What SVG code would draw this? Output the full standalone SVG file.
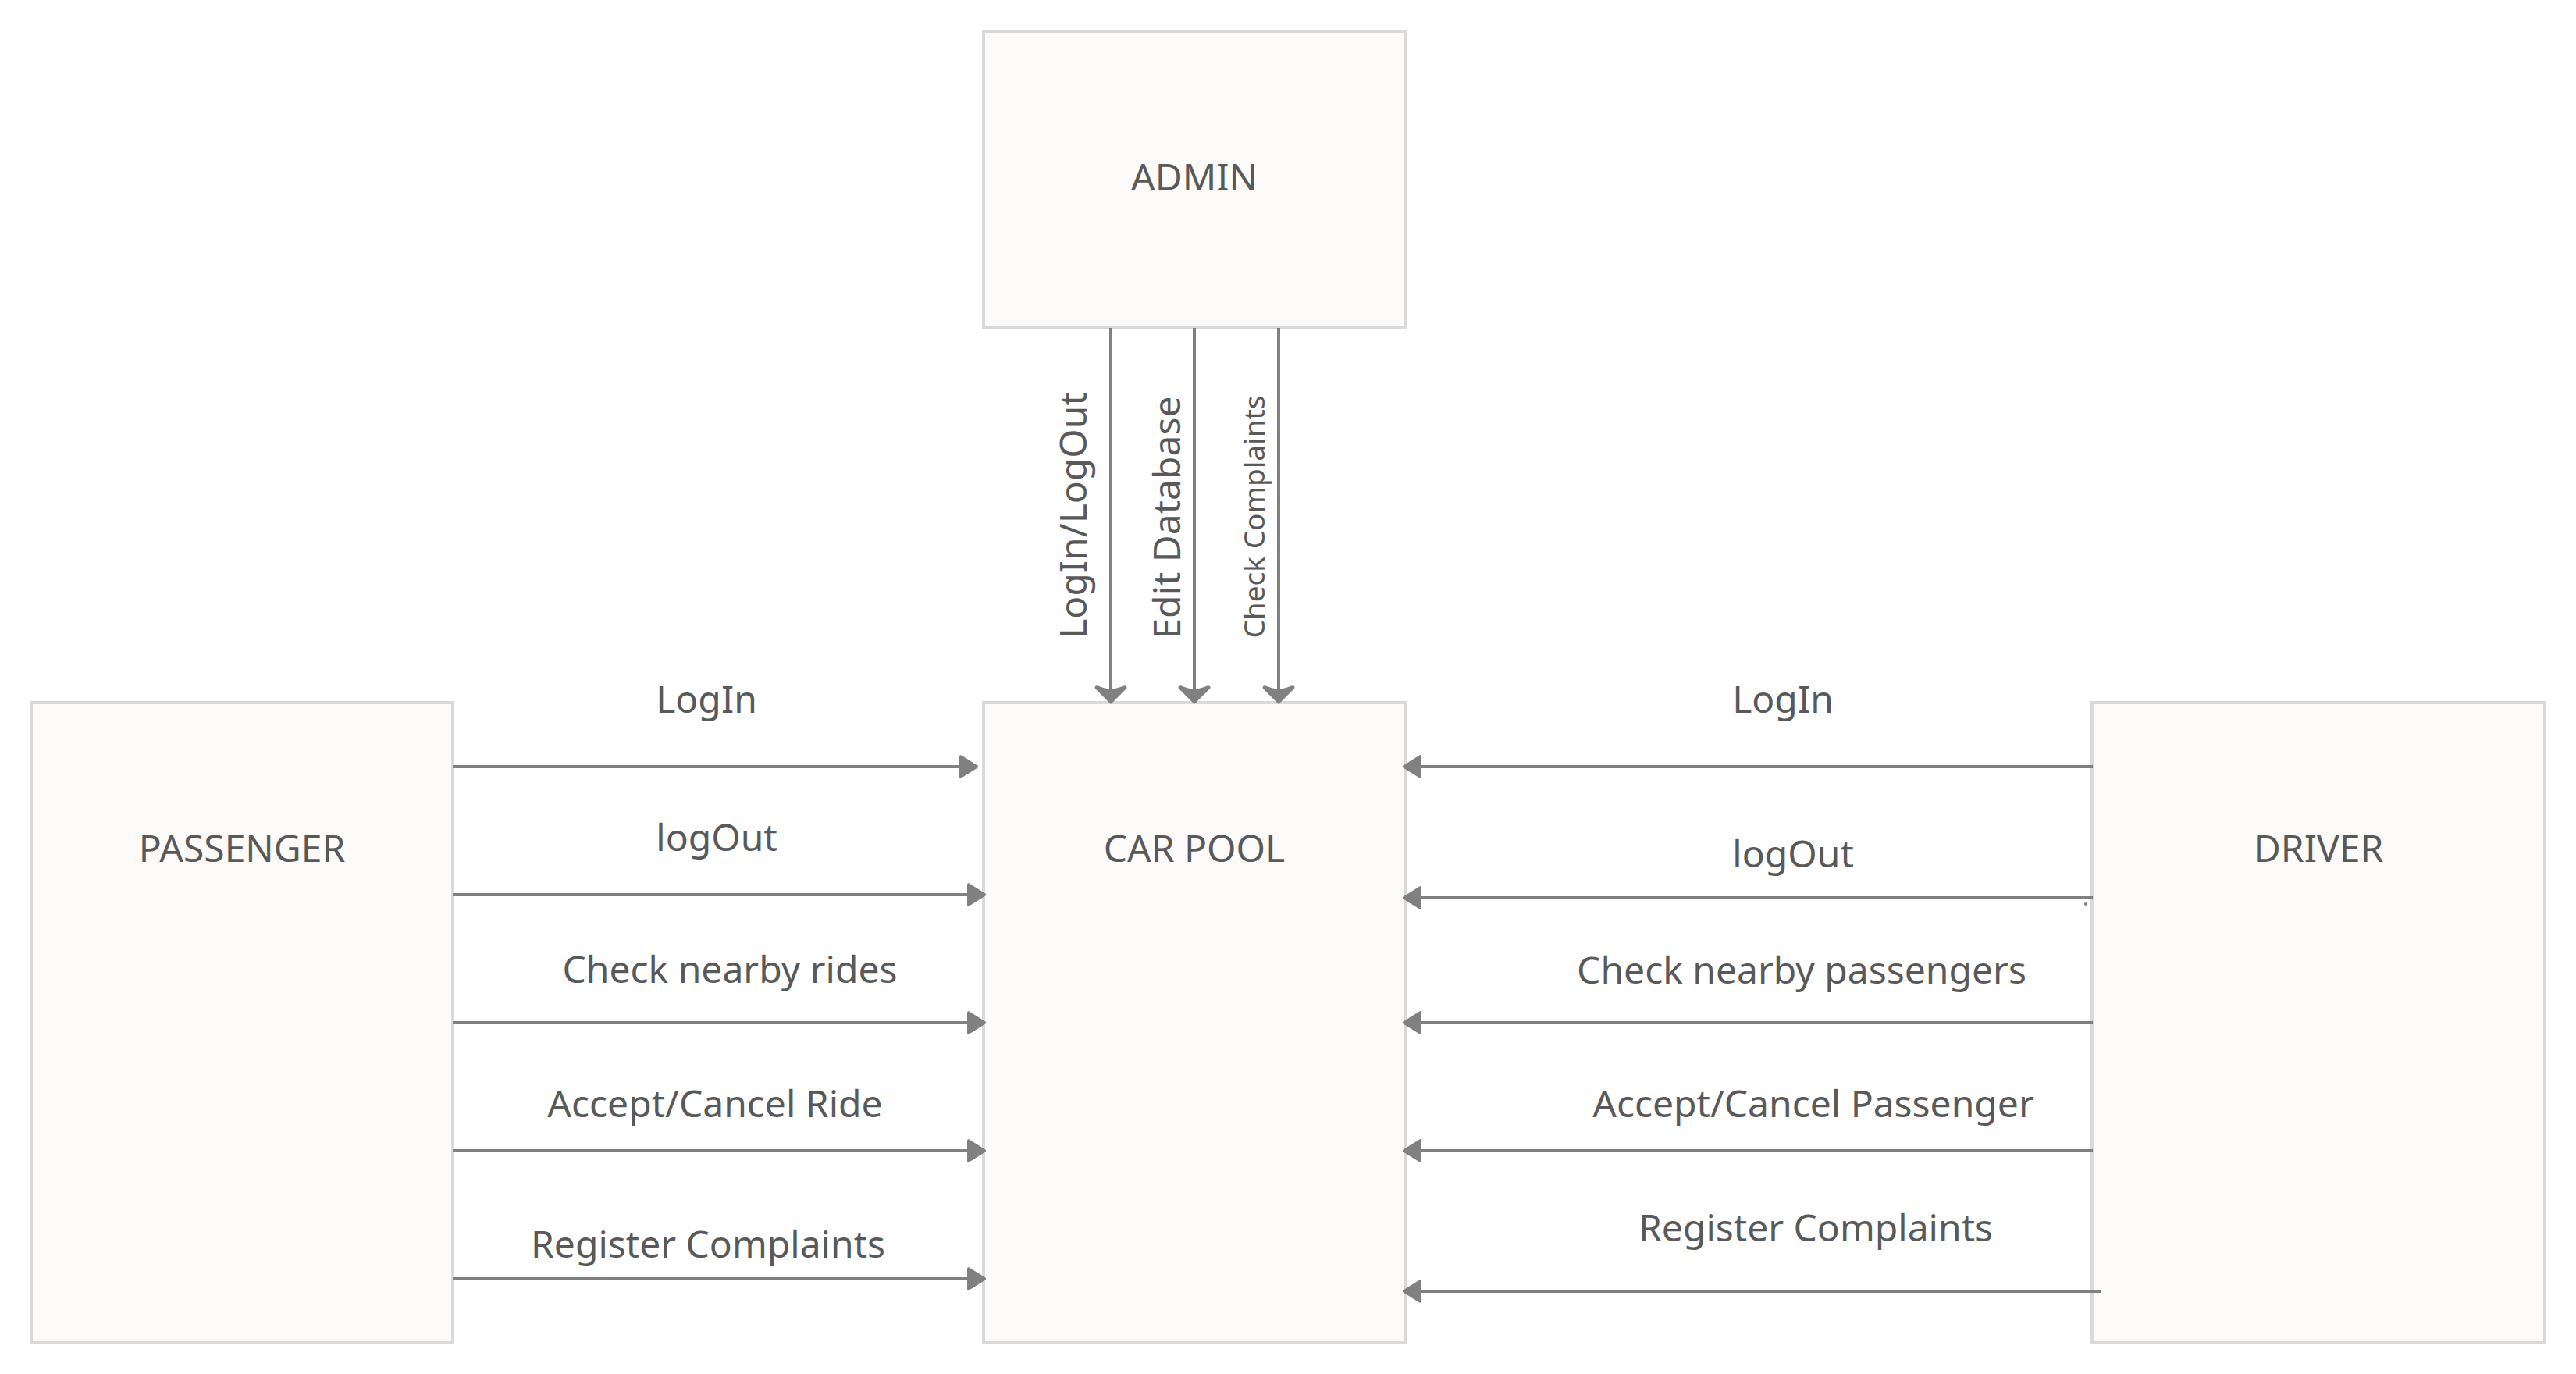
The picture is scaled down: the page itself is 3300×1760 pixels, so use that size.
<svg xmlns="http://www.w3.org/2000/svg" width="3300" height="1760" viewBox="0 0 3300 1760">
<style>
.box{fill:#fcfbfa;stroke:#d9d9d9;stroke-width:4}
.lbl{font-family:"Noto Sans","Open Sans","Liberation Sans",sans-serif;font-size:48px;fill:#595959;text-anchor:middle}
.sm{font-size:37px}
.ln{stroke:#808080;stroke-width:4;fill:none}
</style>
<defs>
<marker id="tri" markerUnits="userSpaceOnUse" markerWidth="30" markerHeight="34" viewBox="-2 -2 26 31" refX="10" refY="13.5" orient="auto">
<path d="M1.5,1.5 L20.5,13.5 L1.5,25.5 Z" fill="#808080" stroke="#808080" stroke-width="3" stroke-linejoin="round"/>
</marker>
<marker id="chev" markerUnits="userSpaceOnUse" markerWidth="28" markerHeight="46" viewBox="-2 -3 26 46" refX="12" refY="20" orient="auto">
<path d="M22,20 L2.5,0.5 Q0,-0.5 0,2.5 Q4,12 5,20 Q4,28 0,37.5 Q0,40.5 2.5,39.5 Z" fill="#808080" stroke="#808080" stroke-width="1.5" stroke-linejoin="round"/>
</marker>
</defs>
<rect width="3300" height="1760" fill="#ffffff"/>
<g id="admin">
<rect class="box" x="1260" y="40" width="540" height="380"/>
<text class="lbl" x="1530" y="244">ADMIN</text>
</g>
<g id="passenger">
<rect class="box" x="40" y="900" width="540" height="820"/>
<text class="lbl" x="310" y="1104">PASSENGER</text>
</g>
<g id="carpool">
<rect class="box" x="1260" y="900" width="540" height="820"/>
<text class="lbl" x="1530" y="1104">CAR POOL</text>
</g>
<g id="driver">
<rect class="box" x="2680" y="900" width="580" height="820"/>
<text class="lbl" x="2970" y="1104">DRIVER</text>
</g>
<g id="connectors">
<line class="ln" x1="1423" y1="420" x2="1423" y2="891" marker-end="url(#chev)"/>
<line class="ln" x1="1530" y1="420" x2="1530" y2="891" marker-end="url(#chev)"/>
<line class="ln" x1="1638" y1="420" x2="1638" y2="891" marker-end="url(#chev)"/>
<text class="lbl" x="1392" y="660" transform="rotate(-90 1392 660)">LogIn/LogOut</text>
<text class="lbl" x="1512" y="663" transform="rotate(-90 1512 663)">Edit Database</text>
<text class="lbl sm" x="1620" y="662" transform="rotate(-90 1620 662)">Check Complaints</text>

<line class="ln" x1="580" y1="982" x2="1240" y2="982" marker-end="url(#tri)"/>
<line class="ln" x1="580" y1="1146" x2="1250" y2="1146" marker-end="url(#tri)"/>
<line class="ln" x1="580" y1="1310" x2="1250" y2="1310" marker-end="url(#tri)"/>
<line class="ln" x1="580" y1="1474" x2="1250" y2="1474" marker-end="url(#tri)"/>
<line class="ln" x1="580" y1="1638" x2="1250" y2="1638" marker-end="url(#tri)"/>
<text class="lbl" x="905" y="913">LogIn</text>
<text class="lbl" x="918" y="1090">logOut</text>
<text class="lbl" x="935" y="1259">Check nearby rides</text>
<text class="lbl" x="916" y="1431">Accept/Cancel Ride</text>
<text class="lbl" x="907" y="1611">Register Complaints</text>

<line class="ln" x1="2681" y1="982" x2="1810" y2="982" marker-end="url(#tri)"/>
<line class="ln" x1="2681" y1="1150" x2="1810" y2="1150" marker-end="url(#tri)"/>
<line class="ln" x1="2681" y1="1310" x2="1810" y2="1310" marker-end="url(#tri)"/>
<line class="ln" x1="2681" y1="1474" x2="1810" y2="1474" marker-end="url(#tri)"/>
<line class="ln" x1="2691" y1="1654" x2="1810" y2="1654" marker-end="url(#tri)"/>
<circle cx="2672" cy="1158" r="2" fill="#808080"/>
<text class="lbl" x="2284" y="913">LogIn</text>
<text class="lbl" x="2297" y="1111">logOut</text>
<text class="lbl" x="2308" y="1260">Check nearby passengers</text>
<text class="lbl" x="2323" y="1431">Accept/Cancel Passenger</text>
<text class="lbl" x="2326" y="1590">Register Complaints</text>
</g>
</svg>
